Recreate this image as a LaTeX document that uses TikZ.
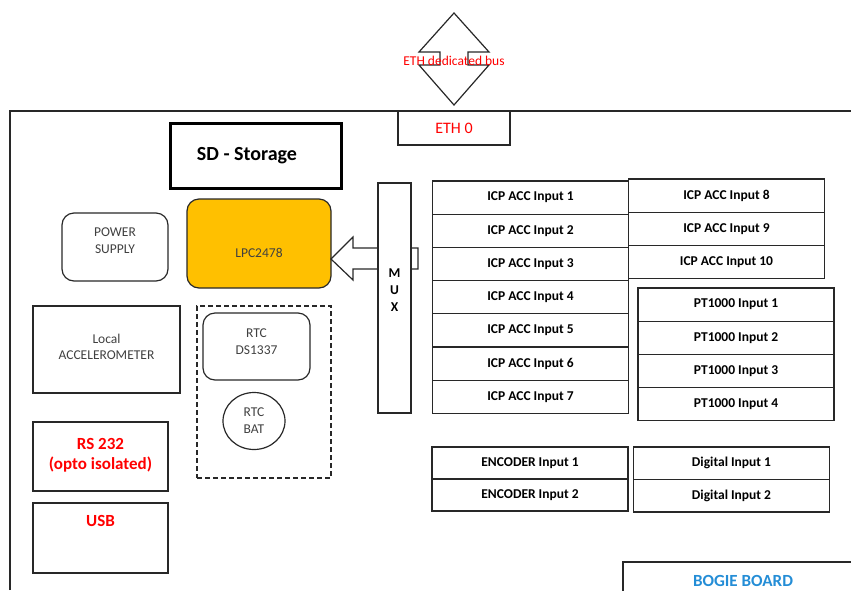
\documentclass[tikz,border=0pt]{standalone}
\usepackage{fontspec}
\setmainfont{Carlito}
\usepackage{tikz}
\usepackage{xcolor}
\usetikzlibrary{positioning,shapes.geometric}
\definecolor{lpcorange}{RGB}{255,192,0}
\definecolor{bogieblue}{RGB}{36,141,214}
\definecolor{linegray}{RGB}{40,40,40}

\begin{document}
\begin{tikzpicture}[x=1pt, y=-1pt, line width=1.2pt,
	box/.style={draw=linegray, rectangle, inner sep=0pt, outer sep=0pt},
	inbox/.style={box, minimum width=196pt, minimum height=33.2pt, font=\fontsize{13.5}{15}\selectfont\bfseries},
	soft/.style={box, rounded corners=12pt, font=\fontsize{13.5}{17}\selectfont, text=black!75, align=center},
	redtxt/.style={text=red, font=\fontsize{17}{20}\selectfont\bfseries, align=center}]
	\clip (0,0) rectangle (851,590);
	
	% board outline
	\draw[linegray] (10,590) -- (10,111) -- (851,111);
	
	% ethernet
	\draw[linegray, fill=white] (454,13) -- (489,52) -- (468,52) -- (468,65) -- (489,65) -- (454,105) -- (419,65) -- (440,65) -- (440,52) -- (419,52) -- cycle;
	\node[text=red, font=\fontsize{13.5}{15}\selectfont](eth bus) at (454,61) {ETH dedicated bus};
	\node[box, minimum width=112pt, minimum height=34pt, text=red, font=\fontsize{16}{18}\selectfont](eth) at (454,128) {ETH 0};
	
	% left side
	\node[box, draw=black, line width=3pt, minimum width=171pt, minimum height=65pt, font=\fontsize{20}{22}\selectfont\bfseries](sd) at (256,156) {SD - Storage\hspace*{18pt}};
	\node[soft, fill=lpcorange, minimum width=144pt, minimum height=89pt, text height=28pt](lpc) at (259,243.5) {LPC2478};
	\node[soft, minimum width=106pt, minimum height=68pt, text depth=13pt](power) at (115,247) {POWER\\SUPPLY};
	\node[box, minimum width=147pt, minimum height=87pt, font=\fontsize{13.5}{16}\selectfont, text=black!75, align=center, text depth=6pt](accel) at (106.5,349.5) {Local\\ACCELEROMETER};
	\node[box, redtxt, minimum width=135pt, minimum height=69pt, text depth=6pt](rs232) at (100.5,456.5) {RS 232\\(opto isolated)};
	\node[box, redtxt, minimum width=135pt, minimum height=70pt, text height=11pt, text depth=35pt](usb) at (100.5,538) {USB};
	
	% rtc
	\node[box, dash pattern=on 5pt off 3pt, minimum width=134pt, minimum height=172pt](rtc frame) at (264,392) {};
	\node[soft, minimum width=107pt, minimum height=67pt, text depth=9pt](rtc) at (256.5,346.5) {RTC\\DS1337};
	\node[draw=linegray, ellipse, minimum width=62pt, minimum height=57pt, inner sep=0pt, font=\fontsize{13.5}{17}\selectfont, text=black!75, align=center](rtc bat) at (254,421) {RTC\\BAT};
	
	% mux into lpc
	\draw[linegray, fill=white] ([yshift=-15.5pt]lpc.east) -- ++(22,-22) -- ++(0,11) -- ++(65,0) -- ++(0,21) -- ++(-65,0) -- ++(0,11) -- cycle;
	\node[box, fill=white, minimum width=33pt, minimum height=230pt, text depth=15pt, align=center, font=\fontsize{13.5}{17}\selectfont\bfseries](mux) at (394.5,298) {M\\U\\X};
	
	% inputs
	\node[inbox](icp1) at (530.5,197.6) {ICP ACC Input 1};
	\node[inbox, below=0pt of icp1](icp2) {ICP ACC Input 2};
	\node[inbox, below=0pt of icp2](icp3) {ICP ACC Input 3};
	\node[inbox, below=0pt of icp3](icp4) {ICP ACC Input 4};
	\node[inbox, below=0pt of icp4](icp5) {ICP ACC Input 5};
	\node[inbox, below=0pt of icp5](icp6) {ICP ACC Input 6};
	\node[inbox, below=0pt of icp6](icp7) {ICP ACC Input 7};
	
	\node[inbox](icp8) at (726.5,195.6) {ICP ACC Input 8};
	\node[inbox, below=0pt of icp8](icp9) {ICP ACC Input 9};
	\node[inbox, below=0pt of icp9](icp10) {ICP ACC Input 10};
	
	\node[inbox](pt1) at (736,304.6) {PT1000 Input 1};
	\node[inbox, below=0pt of pt1](pt2) {PT1000 Input 2};
	\node[inbox, below=0pt of pt2](pt3) {PT1000 Input 3};
	\node[inbox, below=0pt of pt3](pt4) {PT1000 Input 4};
	
	\node[inbox, minimum height=32pt](enc1) at (530,463) {ENCODER Input 1};
	\node[inbox, minimum height=32pt, below=0pt of enc1](enc2) {ENCODER Input 2};
	
	\node[inbox, minimum height=32.5pt](dig1) at (731.5,463.2) {Digital Input 1};
	\node[inbox, minimum height=32.5pt, below=0pt of dig1](dig2) {Digital Input 2};
	
	\node[box, minimum width=240pt, minimum height=38pt, text=bogieblue, font=\fontsize{17}{20}\selectfont\bfseries](bogie) at (743,581) {BOGIE BOARD};
\end{tikzpicture}
\end{document}
